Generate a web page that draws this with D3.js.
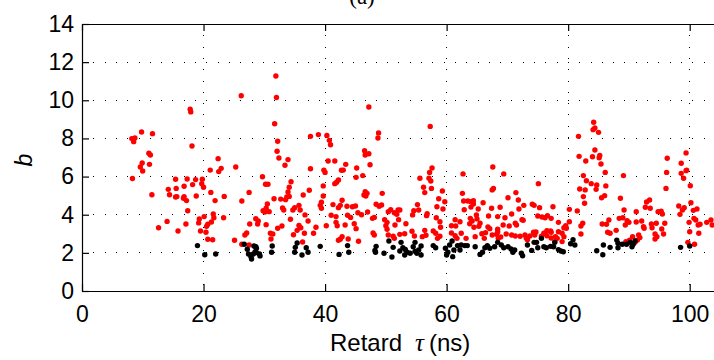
<!DOCTYPE html>
<html><head><meta charset="utf-8">
<script src="https://cdn.jsdelivr.net/npm/d3@7"></script>
<style>body{margin:0;background:#fff}svg{display:block}</style>
</head><body>
<svg id="c" width="714" height="360"></svg>
<script>
const xTicks=[0,20,40,60,80,100];
const yTicks=[0,2,4,6,8,10,12,14];
const redX=[26.2,17.8,17.9,9.8,11.6,8.2,8.7,8.5,18.1,11.0,11.25,9.9,11.1,9.6,22.4,21.1,22.9,25.3,
31.9,32.0,47.2,31.7,48.8,48.7,37.6,38.9,40.3,40.7,40.9,32.2,32.1,32.4,33.9,33.4,46.5,47.2,46.6,40.5,41.6,43.4,45.2,47.4,37.6,39.8,43.0,
57.3,57.6,67.6,
84.2,84.1,84.4,85.0,81.7,84.4,81.8,84.0,85.2,85.1,82.9,85.4,96.3,99.4,98.6,99.5,
9.98,22.5,8.3,15.4,17.3,18.7,19.8,19.7,20.0,18.2,16.8,14.2,15.5,14.4,11.5,15.4,15.6,16.8,16.7,17.2,18.8,21.2,21.9,23.4,26.3,17.4,21.6,21.7,20.1,23.3,19.3,19.2,20.7,20.5,21.3,14.0,17.1,12.6,15.8,19.5,20.4,20.7,21.5,25.1,26.3,
40.0,42.7,29.7,34.4,42.2,41.9,41.6,45.1,46.2,30.2,30.6,34.1,39.7,33.9,33.7,34.1,27.5,37.4,36.4,39.7,46.6,46.4,46.7,46.9,49.4,31.6,32.7,33.5,42.8,39.4,39.4,39.2,30.5,35.7,35.0,35.9,34.7,41.3,42.2,42.5,43.6,44.5,45.0,48.4,48.9,49.3,29.8,30.3,30.8,30.1,33.0,33.2,36.7,41.0,41.8,43.7,44.2,45.4,46.0,47.0,47.8,48.1,50.4,50.8,51.4,52.0,51.8,49.8,50.2,28.6,29.0,28.9,27.6,32.9,34.3,37.2,35.7,36.0,40.2,41.8,42.0,43.3,44.8,45.1,50.0,50.2,51.5,30.3,38.5,27.1,26.8,31.0,31.4,31.1,34.8,35.4,36.6,38.1,42.8,42.5,42.2,43.8,45.5,47.9,48.1,50.4,51.2,51.4,36.3,27.5,32.2,
57.2,62.7,69.4,55.6,57.1,57.4,57.5,56.2,56.4,59.3,67.7,67.5,75.1,62.6,58.7,70.1,71.4,71.8,62.8,63.5,64.0,64.4,64.4,59.7,66.0,74.1,74.4,72.7,77.5,75.3,58.4,59.4,55.2,55.4,62.9,64.0,65.2,67.4,68.8,71.9,52.3,54.6,54.4,56.8,56.7,64.9,65.0,66.9,68.4,69.6,70.7,75.0,75.7,76.2,76.6,77.2,52.1,58.3,63.9,64.2,63.8,61.4,62.2,58.9,53.3,65.5,64.5,65.3,61.5,60.8,59.0,69.3,70.3,71.3,71.5,72.4,72.6,66.8,67.1,68.4,68.4,74.3,74.7,74.5,76.0,76.5,77.1,77.2,56.4,56.6,56.0,54.7,54.3,53.1,52.3,57.8,58.2,58.5,58.9,60.8,61.4,61.7,62.4,63.2,64.7,65.8,66.4,66.2,67.5,68.2,68.5,68.9,69.8,70.7,71.3,72.1,72.9,73.1,73.3,73.7,75.6,76.5,77.2,77.8,77.9,
86.1,82.5,83.0,83.8,81.9,82.8,84.7,84.6,86.2,82.5,82.7,85.5,86.0,89.1,96.1,96.2,98.6,99.4,99.0,100.1,88.6,80.2,81.5,93.4,92.9,92.7,93.5,94.8,95.3,95.5,89.2,91.2,98.2,99.1,98.8,100.2,101.2,100.6,98.4,78.4,80.2,79.6,79.7,79.3,82.4,82.1,85.6,86.3,86.7,88.4,89.0,89.4,89.7,90.0,91.2,92.1,92.4,92.5,93.7,93.8,94.5,95.4,95.9,99.9,100.7,101.0,101.4,101.7,102.8,103.5,103.7,100.0,101.5,78.4,79.0,79.3,78.2,82.1,86.5,86.9,87.9,89.5,90.1,90.6,91.6,91.8,91.4,91.0,94.3,94.6,94.3,95.7,99.7,100.8,79.0,104.6];
const redY=[10.24,9.53,9.39,8.34,8.25,7.99,8.02,7.83,7.6,7.22,7.13,6.71,6.64,6.5,6.94,6.34,6.43,6.5,
11.27,10.15,9.65,8.77,8.29,8.02,8.11,8.2,8.16,7.9,7.67,7.85,7.33,6.97,6.89,6.59,7.36,7.2,7.13,6.82,6.82,6.64,6.45,6.62,6.41,6.34,6.34,
8.63,6.45,6.5,
8.85,8.46,8.55,8.32,8.11,7.39,7.06,7.04,7.11,6.99,6.82,6.66,6.96,7.24,6.7,6.34,
6.29,6.26,5.9,5.86,5.87,5.84,5.86,5.63,5.44,5.58,5.49,5.33,5.38,5.05,5.05,4.93,4.95,4.95,4.86,4.74,4.98,5.17,4.74,4.96,4.72,4.21,4.04,3.84,3.9,3.84,3.78,3.57,3.5,3.39,3.62,3.65,3.51,3.32,3.15,3.15,3.08,2.71,2.69,2.66,2.45,
6.22,6.33,5.99,5.73,5.82,5.7,5.63,5.96,6.05,5.6,5.6,5.44,5.51,5.19,4.93,4.96,5.17,5.28,5.03,4.98,5.21,5.03,4.98,5.12,5.12,4.84,4.82,4.79,4.76,4.65,4.34,4.49,4.56,4.49,4.37,4.25,4.25,4.53,4.37,4.49,4.44,4.42,4.46,4.55,4.44,4.51,4.21,4.34,4.16,4.14,4.35,4.25,3.99,3.97,3.9,3.97,3.86,4.1,4.0,4.14,3.81,3.86,4.16,4.26,4.1,4.25,4.02,3.74,3.6,3.79,3.67,3.51,3.51,3.41,3.76,3.67,3.44,3.32,3.42,3.6,3.42,3.46,3.53,3.27,3.42,3.24,3.46,3.48,3.34,3.04,2.94,3.03,2.99,2.73,2.95,3.18,3.03,3.03,2.85,2.71,2.66,2.73,2.61,3.04,2.94,2.94,2.87,2.76,2.57,2.41,3.29,
6.22,6.14,6.14,5.91,5.91,5.77,5.38,5.44,5.16,5.24,5.38,5.3,5.63,5.12,4.84,4.89,5.16,4.77,4.72,4.72,4.68,4.73,4.56,4.68,4.63,4.55,4.49,4.49,4.42,4.37,4.42,4.3,4.53,4.25,4.26,4.4,4.3,4.34,4.39,4.3,4.25,4.21,3.99,4.05,3.95,3.99,3.78,3.93,3.9,3.84,4.04,3.93,3.88,3.84,3.95,3.81,3.74,3.84,3.81,3.67,3.53,3.74,3.63,3.63,3.53,3.55,3.34,3.39,3.41,3.42,3.34,3.46,3.41,3.55,3.46,3.74,3.71,3.36,3.27,3.24,3.09,3.08,3.09,2.94,3.03,2.9,3.15,3.08,3.18,2.92,2.85,2.88,3.13,3.0,2.97,3.15,3.03,2.76,2.87,3.04,2.9,2.76,3.03,2.76,2.85,3.0,3.06,2.76,2.94,2.97,2.76,2.83,2.99,2.94,2.88,2.87,2.94,2.78,2.69,2.88,2.87,3.16,2.78,2.59,2.85,
6.22,6.05,5.78,5.63,5.35,5.3,5.56,5.33,5.51,4.95,4.6,4.89,5.0,6.05,5.38,6.22,6.17,6.31,5.91,5.52,4.86,4.28,4.2,4.77,4.67,4.39,4.34,4.16,4.18,4.04,4.25,4.16,4.46,4.37,4.25,4.63,4.3,4.23,4.02,3.6,3.63,3.42,3.29,3.32,3.55,3.41,3.51,3.5,3.72,3.81,3.84,3.46,3.69,3.6,3.62,3.67,3.37,3.29,3.51,3.32,3.55,3.25,3.55,3.6,3.81,3.72,3.46,3.5,3.6,3.72,3.46,3.11,3.03,3.11,3.03,2.85,2.76,2.99,3.08,3.03,3.18,2.59,2.67,2.85,2.94,2.8,2.67,2.55,2.99,2.85,2.73,2.99,2.55,2.45,2.59,3.6];
const blackX=[19.0,20.2,22.0,26.7,27.2,27.4,27.8,27.9,28.2,28.5,28.7,28.7,29.2,29.3,28.6,28.3,31.3,31.2,35.4,35.1,35.0,36.2,36.9,37.2,39.2,42.3,43.7,43.9,48.4,48.2,48.3,49.7,50.5,51.2,51.0,
52.5,52.8,52.3,53.2,53.5,53.1,54.0,54.5,54.8,54.8,55.1,55.8,55.8,55.4,57.8,58.2,59.8,60.2,60.0,60.5,60.9,61.0,61.2,61.8,62.2,62.4,63.0,63.4,64.7,65.5,65.9,66.3,66.7,67.1,67.9,68.4,69.0,69.4,70.1,70.6,70.9,71.2,72.3,72.5,73.3,74.0,74.4,74.8,75.0,75.6,76.0,76.4,77.1,77.6,77.8,
78.4,79.2,78.8,80.8,81.1,80.4,84.7,85.7,85.8,86.9,88.0,88.2,88.2,88.9,89.6,90.2,90.5,90.7,91.0,98.5,100.0];
const blackY=[2.38,1.9,1.94,2.45,2.19,1.94,1.8,1.68,1.94,2.06,2.01,2.24,1.94,1.84,2.32,2.36,2.36,2.03,2.52,2.29,2.03,1.89,2.27,2.03,2.34,1.92,2.38,2.03,2.34,2.13,2.03,1.98,2.62,2.29,1.78,
2.55,2.27,2.1,2.18,2.03,1.89,1.98,2.32,2.55,2.08,1.98,2.36,1.89,2.15,2.38,2.27,2.24,2.03,1.89,2.41,2.62,1.8,2.15,2.38,2.15,2.41,2.38,2.38,2.32,1.92,2.03,2.27,2.38,2.24,2.32,2.55,2.41,2.27,2.32,2.2,2.03,2.15,1.98,1.85,2.41,2.13,2.55,2.55,2.27,2.76,2.32,2.27,2.34,2.32,2.55,
2.17,2.06,2.1,2.69,2.41,2.48,2.11,1.9,2.41,2.29,2.67,2.5,2.27,2.45,2.45,2.55,2.32,2.45,2.62,2.29,2.36];

const svg=d3.select('#c');
const L=82,T=24,B=291;
const x=d3.scaleLinear().domain([0,110]).range([L,L+110*6.077]);
const y=d3.scaleLinear().domain([0,14]).range([B,T]);
const font='"Liberation Sans", Arial, Helvetica, sans-serif';

// grid
const g=svg.append('g');
g.selectAll('line.gx').data(xTicks.slice(1)).join('line')
 .attr('x1',d=>x(d)).attr('x2',d=>x(d)).attr('y1',T).attr('y2',B)
 .attr('stroke','#000').attr('stroke-width',1).attr('stroke-dasharray','1,10.3').attr('shape-rendering','crispEdges');
g.selectAll('line.gy').data(yTicks.slice(1,-1)).join('line')
 .attr('x1',L).attr('x2',714).attr('y1',d=>y(d)).attr('y2',d=>y(d))
 .attr('stroke','#000').attr('stroke-width',1).attr('stroke-dasharray','1,10.3').attr('shape-rendering','crispEdges');

// points
svg.append('g').selectAll('circle').data(d3.range(redX.length)).join('circle')
 .attr('cx',i=>x(redX[i])).attr('cy',i=>y(redY[i])).attr('r',2.7).attr('fill','#ff0000');
svg.append('g').selectAll('circle').data(d3.range(blackX.length)).join('circle')
 .attr('cx',i=>x(blackX[i])).attr('cy',i=>y(blackY[i])).attr('r',2.7).attr('fill','#000');

// axes
const ax=svg.append('g').attr('transform',`translate(0,${B})`)
 .call(d3.axisBottom(x).tickValues(xTicks).tickFormat(d3.format('d')).tickSizeInner(-7).tickSizeOuter(0).tickPadding(15));
const ay=svg.append('g').attr('transform',`translate(${L},0)`)
 .call(d3.axisLeft(y).tickValues(yTicks).tickFormat(d3.format('d')).tickSizeInner(-7).tickSizeOuter(0).tickPadding(8));
const at=svg.append('g').attr('transform',`translate(0,${T})`)
 .call(d3.axisTop(x).tickValues(xTicks).tickFormat('').tickSizeInner(-7).tickSizeOuter(0));
[ax,ay,at].forEach(a=>{a.selectAll('text').attr('font-family',font).attr('font-size',23).attr('fill','#000');
 a.selectAll('path,line').attr('stroke','#000').attr('stroke-width',1.2);});

// labels
const xl=svg.append('text').attr('y',351).attr('font-family',font).attr('font-size',24).attr('fill','#000');
xl.append('tspan').attr('x',330).text('Retard');
xl.append('tspan').attr('x',415).attr('font-family','"Liberation Serif","DejaVu Serif",serif').attr('font-style','italic').attr('font-size',25).text('τ');
xl.append('tspan').attr('x',429).text('(ns)');
svg.append('text').attr('transform','translate(32,160) rotate(-90)').attr('text-anchor','middle')
 .attr('font-family',font).attr('font-style','italic').attr('font-size',23).attr('fill','#000').text('b');
svg.append('text').attr('x',362).attr('y',4).attr('text-anchor','middle')
 .attr('font-family','"Liberation Serif",serif').attr('font-size',23).attr('fill','#000').text('(a)');
</script>
</body></html>
